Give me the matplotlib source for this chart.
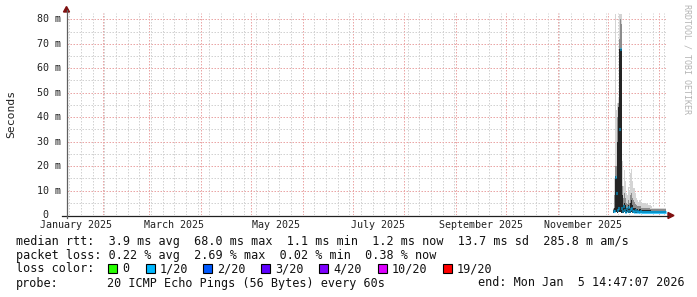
import datetime as dt

import matplotlib
matplotlib.use("Agg")
import matplotlib.pyplot as plt
import matplotlib.dates as mdates
from matplotlib.patches import Polygon, Rectangle
from matplotlib.lines import Line2D
from matplotlib.transforms import blended_transform_factory

W, H = 697, 297

END = dt.datetime(2026, 1, 5, 14, 47, 7)
START = END - dt.timedelta(days=360)
FIRST_BIN = dt.datetime(2025, 12, 4, 6, 0)
STEP = dt.timedelta(days=0.6)

# ---- data (ms), one value per graph column
median_ms = [1.6, 1.8, 15.5, 9.0, 2.0, 3.0, 35.0, 68.0, 3.0, 1.5,
             3.5, 2.0, 1.4, 2.8, 1.6, 3.2, 1.5, 2.4, 3.0, 1.6,
             1.8, 1.4, 2.2, 1.4, 1.5, 1.3, 1.4, 1.6, 1.3, 1.3,
             1.4, 1.2, 1.3, 1.2, 1.3, 1.2, 1.2, 1.3, 1.2, 1.2,
             1.3, 1.2, 1.2, 1.3, 1.2, 1.2, 1.2, 1.3, 1.2, 1.2,
             1.2, 1.3, 1.2]
smoke_min_ms = [1.0, 1.1, 1.2, 1.1, 1.0, 1.1, 1.2, 1.1, 1.0, 1.0,
                1.0, 1.1, 1.0, 1.0, 1.1, 1.0, 1.0, 1.0, 1.1, 1.0,
                1.0, 1.0, 1.0, 1.0, 1.0, 0.9, 1.0, 1.0, 0.9, 0.9,
                1.0, 0.9, 0.9, 0.9, 0.9, 0.9, 0.9, 0.9, 0.9, 0.9,
                0.9, 0.9, 0.9, 0.9, 0.9, 0.9, 0.9, 0.9, 0.9, 0.9,
                0.9, 0.9, 0.9]
smoke_dark_ms = [2.0, 3.0, 16.0, 15.0, 30.0, 44.0, 68.0, 68.0, 68.0, 8.0,
                 4.0, 5.0, 4.0, 3.0, 3.0, 4.0, 3.0, 5.0, 6.0, 4.0,
                 3.0, 3.0, 3.0, 2.5, 2.5, 2.2, 2.5, 2.5, 2.2, 2.2,
                 2.2, 2.2, 2.2, 2.0, 2.0, 2.0, 2.0, 2.0, 1.8, 1.8,
                 1.8, 1.8, 1.8, 1.8, 1.8, 1.8, 1.8, 1.8, 1.8, 1.8,
                 1.8, 1.8, 1.8]
smoke_mid_ms = [2.5, 8.0, 20.0, 20.0, 40.0, 46.0, 72.0, 80.0, 78.0, 12.0,
                7.0, 9.0, 7.0, 5.0, 4.5, 6.0, 5.0, 8.0, 9.0, 7.0,
                6.0, 5.5, 4.5, 4.0, 3.5, 3.5, 3.5, 3.5, 3.0, 3.0,
                3.0, 3.0, 3.0, 3.0, 3.0, 2.8, 2.8, 2.6, 2.5, 2.4,
                2.4, 2.4, 2.4, 2.4, 2.4, 2.4, 2.4, 2.4, 2.4, 2.4,
                2.4, 2.4, 2.4]
smoke_max_ms = [3.0, 15.0, 82.0, 43.0, 46.0, 48.0, 82.0, 82.0, 82.0, 22.0,
                12.0, 18.5, 14.0, 9.0, 8.0, 11.5, 10.0, 17.0, 19.0, 14.0,
                11.0, 11.0, 9.0, 7.0, 6.0, 5.5, 6.0, 6.0, 5.0, 5.0,
                5.0, 5.0, 5.0, 4.5, 4.5, 4.0, 4.0, 4.0, 3.5, 3.0,
                3.0, 3.0, 3.0, 3.0, 3.0, 3.0, 3.0, 3.0, 3.0, 3.0,
                3.0, 3.0, 3.0]

ytick_vals = [0, 10, 20, 30, 40, 50, 60, 70, 80]
ytick_minor = [5, 15, 25, 35, 45, 55, 65, 75]
ytick_labels = ["0  ", "10 m", "20 m", "30 m", "40 m", "50 m", "60 m", "70 m", "80 m"]
label_months = [dt.datetime(2025, m, 1) for m in (1, 3, 5, 7, 9, 11)]
month_labels = ["January 2025", "March 2025", "May 2025", "July 2025",
                "September 2025", "November 2025"]

loss_names = ["0", "1/20", "2/20", "3/20", "4/20", "10/20", "19/20"]
loss_colors = ["#26ff00", "#00b8ff", "#0059ff", "#5e00ff", "#7e00ff", "#dd00ff", "#ff0000"]

legend_lines = [
    "median rtt:  3.9 ms avg  68.0 ms max  1.1 ms min  1.2 ms now  13.7 ms sd  285.8 m am/s",
    "packet loss: 0.22 % avg  2.69 % max  0.02 % min  0.38 % now",
]
probe_text = "20 ICMP Echo Pings (56 Bytes) every 60s"
end_text = "end: Mon Jan  5 14:47:07 2026"

MONO = "DejaVu Sans Mono"
TXT = "#111111"


def fx(x):
    return x / W


def fy(y):
    return 1 - y / H


fig = plt.figure(figsize=(W / 100, H / 100), dpi=100, facecolor="white")
ax = fig.add_axes([fx(67), fy(215), 600 / W, 202 / H])
ax.set_facecolor("white")
ax.set_xlim(START, END)
ax.set_ylim(0, 82.6)

times = [FIRST_BIN + STEP * i for i in range(len(median_ms))]
width = STEP.total_seconds() / 86400


def spans(top):
    return [t - b for t, b in zip(top, smoke_min_ms)]


# smoke
ax.bar(times, spans(smoke_max_ms), bottom=smoke_min_ms, width=width,
       align="edge", color="#d4d4d4", linewidth=0, zorder=2)
ax.bar(times, spans(smoke_mid_ms), bottom=smoke_min_ms, width=width,
       align="edge", color="#8c8c8c", linewidth=0, zorder=3)
ax.bar(times, spans(smoke_dark_ms), bottom=smoke_min_ms, width=width,
       align="edge", color="#242424", linewidth=0, zorder=4)

# median
tnum = mdates.date2num(times)
ax.hlines(median_ms, tnum, tnum + width, color=loss_colors[1], linewidth=2.2, zorder=5)

# grid (drawn over the data, like rrdtool)
ax.xaxis.set_major_locator(mdates.MonthLocator())
ax.xaxis.set_minor_locator(mdates.WeekdayLocator(byweekday=mdates.SU))
ax.set_yticks(ytick_vals)
ax.set_yticks(ytick_minor, minor=True)
ax.grid(which="minor", color="#d2d2d2", linestyle=(0, (1.5, 1.5)), linewidth=0.72, zorder=6)
ax.grid(which="major", color="#eaa6a6", linestyle=(0, (1.5, 1.5)), linewidth=0.72, zorder=7)
ax.tick_params(which="both", length=0, labelleft=False, labelbottom=False)
for s in ax.spines.values():
    s.set_visible(False)

# y tick labels
ytrans = blended_transform_factory(fig.transFigure, ax.transData)
for v, lab in zip(ytick_vals, ytick_labels):
    ax.text(fx(61), v, lab, transform=ytrans, ha="right", va="center",
            fontsize=7.2, family=MONO, color="#222222", clip_on=False)

# x month labels centred on the middle of the month
for m, lab in zip(label_months, month_labels):
    ax.text(m + dt.timedelta(days=15), -10 / 202, lab, transform=ax.get_xaxis_transform(),
            ha="center", va="center", fontsize=7.2, family=MONO, color="#222222", clip_on=False)

# axes lines and arrows
fig.add_artist(Line2D([fx(62), fx(668)], [fy(215.5), fy(215.5)], color="#202020", lw=0.9))
fig.add_artist(Line2D([fx(66.5), fx(66.5)], [fy(218), fy(10)], color="#606060", lw=0.9))
fig.add_artist(Polygon([[fx(63.5), fy(12)], [fx(69.5), fy(12)], [fx(66.5), fy(6.5)]],
                       closed=True, color="#7f1010", transform=fig.transFigure))
fig.add_artist(Polygon([[fx(668), fy(212.5)], [fx(668), fy(218.5)], [fx(674), fy(215.5)]],
                       closed=True, color="#7f1010", transform=fig.transFigure))

# axis title & watermark
fig.text(fx(11), fy(114), "Seconds", rotation=90, ha="center", va="center",
         fontsize=8.2, family=MONO, color="#222222")
fig.text(fx(687), fy(59), "RRDTOOL / TOBI OETIKER", rotation=-90, ha="center", va="center",
         fontsize=6, family=MONO, color="#b4b4b4")

# legend
fig.text(fx(16), fy(242), legend_lines[0], ha="left", va="center", fontsize=8.5, family=MONO, color=TXT)
fig.text(fx(16), fy(255.5), legend_lines[1], ha="left", va="center", fontsize=8.5, family=MONO, color=TXT)
fig.text(fx(16), fy(269), "loss color:", ha="left", va="center", fontsize=8.5, family=MONO, color=TXT)
box_x = [108, 146, 203, 261, 319, 378, 443]
for bx, name, col in zip(box_x, loss_names, loss_colors):
    fig.add_artist(Rectangle((fx(bx), fy(273)), 9 / W, 9 / H, facecolor=col,
                             edgecolor="black", linewidth=0.8, transform=fig.transFigure))
    fig.text(fx(bx + 14), fy(269), name, ha="left", va="center", fontsize=8.5, family=MONO, color=TXT)
fig.text(fx(16), fy(283), "probe:", ha="left", va="center", fontsize=8.5, family=MONO, color=TXT)
fig.text(fx(107), fy(283), probe_text, ha="left", va="center", fontsize=8.5, family=MONO, color=TXT)
fig.text(fx(478), fy(283), end_text, ha="left", va="center", fontsize=8.5, family=MONO, color=TXT)

fig.savefig("out.png", dpi=100, facecolor="white")
